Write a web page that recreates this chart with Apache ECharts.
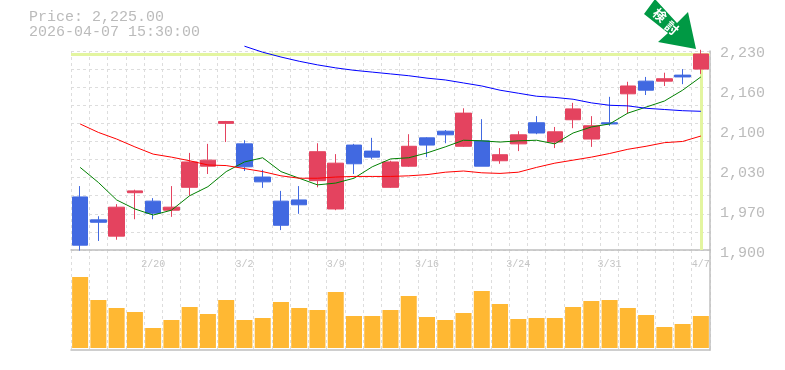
<!DOCTYPE html>
<html><head><meta charset="utf-8">
<style>html,body{margin:0;padding:0;background:#fff}#c{width:785px;height:370px}</style>
<script src="https://cdn.jsdelivr.net/npm/echarts@6/dist/echarts.min.js"></script>
</head><body><div id="c"></div>
<script>
const categories = ['2/16','2/17','2/18','2/19','2/20','2/24','2/25','2/26','2/27','3/2','3/3','3/4','3/5','3/6','3/9','3/10','3/11','3/12','3/13','3/16','3/17','3/18','3/19','3/23','3/24','3/25','3/26','3/27','3/30','3/31','4/1','4/2','4/3','4/6','4/7'];
// open, close, low, high
const ohlc = [
[1988,1908,1899,2006],[1950,1946,1915,1956],[1923,1971,1917,1976],[1995,1998,1951,2000],[1981,1961,1951,1986],
[1966,1971,1955,2006],[2004,2046,1990,2061],[2039,2049,2026,2076],[2110,2113,2079,2114],[2076,2038,2031,2082],
[2021,2013,2003,2033],[1981,1941,1933,1998],[1983,1975,1960,2006],[2015,2063,2004,2077],[1968,2044,1966,2059],
[2074,2043,2026,2076],[2064,2054,2051,2086],[2004,2046,2003,2048],[2039,2072,2038,2092],[2086,2074,2054,2087],
[2097,2091,2077,2099],[2072,2127,2071,2135],[2081,2039,2039,2117],[2048,2058,2043,2069],[2076,2091,2064,2097],
[2111,2094,2092,2122],[2079,2096,2069,2104],[2116,2134,2102,2144],[2084,2106,2071,2122],[2111,2109,2106,2154],
[2159,2172,2126,2179],[2180,2165,2157,2187],[2180,2184,2172,2194],[2190,2187,2175,2200],[2200,2225,2192,2232]];
const maShort = [2037,2012,1983,1968,1958,1966,1990,2005,2030,2046,2053,2030,2019,2008,2011,2019,2038,2051,2053,2061,2071,2082,2081,2079,2081,2082,2076,2094,2104,2109,2127,2137,2147,2165,2187];
const maMid = [2109,2095,2084,2071,2059,2054,2048,2041,2040,2035,2030,2023,2019,2019,2021,2022,2022,2022,2023,2025,2029,2031,2028,2027,2029,2037,2044,2049,2054,2060,2067,2072,2078,2080,2089];
const maLong = [null,null,null,null,null,null,null,null,null,2238,2228,2220,2213,2207,2202,2198,2195,2192,2189,2185,2182,2177,2172,2165,2160,2155,2153,2150,2144,2140,2139,2135,2133,2131,2130];
const volume = [71,48,40,36,20,28,41,34,48,28,30,46,40,38,56,32,32,38,52,31,28,35,57,44,29,30,30,41,47,48,40,33,21,24,32];
const priceTicks = ['1,900','1,970','2,030','2,100','2,160','2,230'];
const lastPrice = 2225;
const titleLines = ['Price: 2,225.00','2026-04-07 15:30:00'];
const arrowText = '検討';

const RED='#E4435F', BLUE='#4169E1', GRID='#dddddd', AXIS='#bfbfbf', TXT='#bbbbbb';
const MONO='"Liberation Mono", monospace';
const gridDash={color:GRID,width:1,type:[3,3]};
const chart=echarts.init(document.getElementById('c'),null,{renderer:'canvas'});
chart.setOption({
  animation:false,
  title:{text:titleLines.join('\n'),left:29,top:10,padding:0,textStyle:{fontFamily:MONO,fontSize:15,fontWeight:'normal',color:TXT,lineHeight:15}},
  grid:[
    {left:71,width:639,top:51,height:199},
    {left:71,width:639,top:250,height:100},
    {left:71,width:639,top:53,height:200}
  ],
  xAxis:[
    {type:'category',gridIndex:0,data:categories,boundaryGap:true,
      axisLine:{show:true,onZero:false,lineStyle:{color:AXIS,width:1.5}},axisTick:{show:false},
      axisLabel:{show:true,interval:(i)=>i%5===4,fontFamily:MONO,fontSize:10,color:'#c4c4c4',margin:9},
      splitLine:{show:true,interval:0,lineStyle:gridDash}},
    {type:'category',gridIndex:1,data:categories,boundaryGap:true,
      axisLine:{show:true,onZero:false,lineStyle:{color:AXIS,width:1.5}},axisTick:{show:false},axisLabel:{show:false},
      splitLine:{show:true,interval:0,lineStyle:gridDash}},
    {type:'category',gridIndex:2,data:categories,show:false}
  ],
  yAxis:[
    {type:'value',gridIndex:0,min:1900,max:2230,show:false,splitLine:{show:false}},
    {type:'value',gridIndex:0,min:0,max:11,interval:1,position:'left',
      axisLine:{show:false},axisTick:{show:false},axisLabel:{show:false},splitLine:{show:true,lineStyle:gridDash}},
    {type:'value',gridIndex:0,min:0,max:5,interval:1,position:'right',
      axisLine:{show:true,lineStyle:{color:AXIS,width:1.5}},axisTick:{show:false},splitLine:{show:false},axisLabel:{show:false}},
    {type:'value',gridIndex:1,min:-2,max:98,show:true,position:'right',
      axisLine:{show:true,lineStyle:{color:AXIS,width:1.5}},axisTick:{show:false},axisLabel:{show:false},splitLine:{show:false}},
    {type:'value',gridIndex:2,min:0,max:5,interval:1,position:'right',
      axisLine:{show:false},axisTick:{show:false},splitLine:{show:false},
      axisLabel:{fontFamily:MONO,fontSize:15,color:TXT,margin:10,formatter:(v)=>priceTicks[v]}}
  ],
  series:[
    {type:'line',xAxisIndex:0,yAxisIndex:0,data:[],z:1,silent:true,
      markLine:{silent:true,symbol:'none',label:{show:false},lineStyle:{color:'#E3F5A0',width:3,type:'solid',opacity:1},z:1,
        data:[{yAxis:lastPrice},[{coord:[categories[34],lastPrice]},{coord:[categories[34],1900]}]]}},
    {type:'candlestick',xAxisIndex:0,yAxisIndex:0,data:ohlc,barWidth:16,clip:false,z:3,
      itemStyle:{color:RED,color0:BLUE,borderColor:RED,borderColor0:BLUE,borderWidth:1}},
    {type:'line',xAxisIndex:0,yAxisIndex:0,data:maShort,clip:false,z:4,symbol:'none',lineStyle:{color:'#008000',width:1}},
    {type:'line',xAxisIndex:0,yAxisIndex:0,data:maMid,clip:false,z:4,symbol:'none',lineStyle:{color:'#ff0000',width:1}},
    {type:'line',xAxisIndex:0,yAxisIndex:0,data:maLong,clip:false,z:4,symbol:'none',lineStyle:{color:'#0000ff',width:1}},
    {type:'bar',xAxisIndex:1,yAxisIndex:3,data:volume,barWidth:16,z:3,itemStyle:{color:'#FFB833'}}
  ],
  graphic:[
    {type:'polygon',z:10,shape:{points:[[655,-1],[644,14],[668,33],[658,42],[696,49],[688,12],[677,23]]},style:{fill:'#009944'}},
    {type:'text',z:11,x:660,y:15,rotation:-0.72,style:{text:arrowText[0],fill:'#fff',font:'bold 13px "Noto Sans CJK JP"',textAlign:'center',textVerticalAlign:'middle'}},
    {type:'text',z:11,x:672,y:28,rotation:-0.72,style:{text:arrowText[1],fill:'#fff',font:'bold 13px "Noto Sans CJK JP"',textAlign:'center',textVerticalAlign:'middle'}}
  ]
});
</script></body></html>
